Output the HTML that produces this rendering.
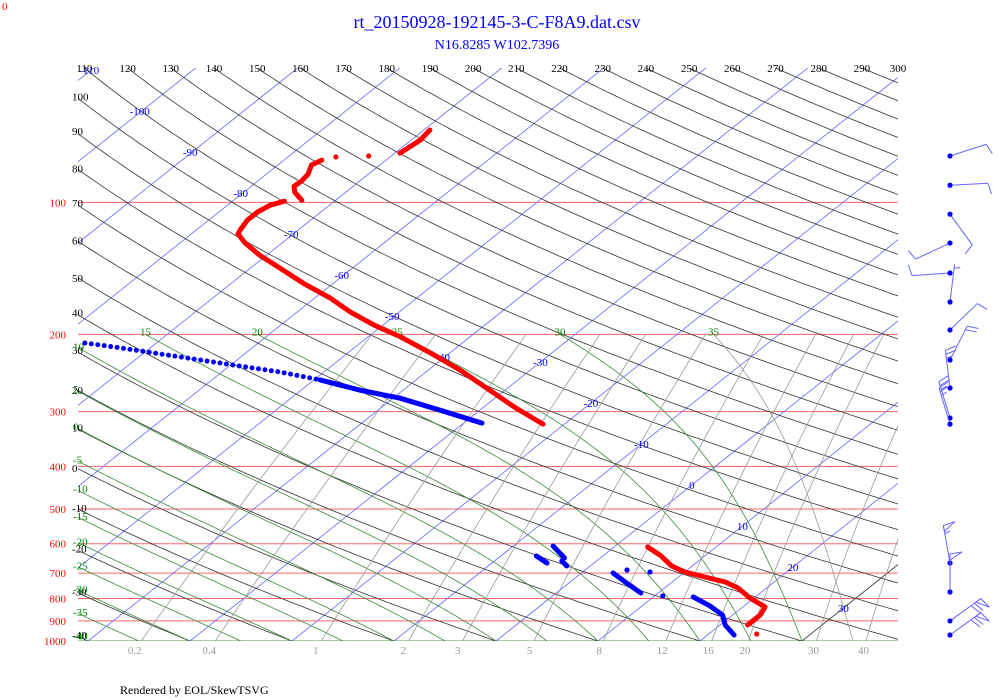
<!DOCTYPE html>
<html><head><meta charset="utf-8"><style>
html,body{margin:0;padding:0;background:#fff;}
svg{display:block;font-family:"Liberation Serif",serif;}
</style></head><body>
<svg id="chart" width="1000" height="700" viewBox="0 0 1000 700" xmlns="http://www.w3.org/2000/svg">
<defs><clipPath id="plotclip"><rect x="78" y="68" width="820" height="573"/></clipPath></defs>
<text x="2" y="10" font-size="11" fill="red">0</text>
<text x="497" y="28" font-size="18" fill="blue" text-anchor="middle">rt_20150928-192145-3-C-F8A9.dat.csv</text>
<text x="497" y="49" font-size="14" fill="blue" text-anchor="middle">N16.8285 W102.7396</text>
<text x="120" y="694" font-size="12" fill="#000">Rendered by EOL/SkewTSVG</text>
<g id="grid" clip-path="url(#plotclip)"></g>
<g id="labels"></g>
<g id="traces" clip-path="url(#plotclip)"></g>
<g id="winds"></g>
</svg>
<script>
// ---- data ----
const pressureLevels=[100,200,300,400,500,600,700,800,900,1000];
const isotherms=[-150,-140,-130,-120,-110,-100,-90,-80,-70,-60,-50,-40,-30,-20,-10,0,10,20,30,40];
const isoLabelsUpper=[-110,-100,-90,-80,-70,-60,-50,-40];
const isoLabelsLower=[-30,-20,-10,0,10,20,30];
const dryAdiabats=[];for(let t=-40;t<=300;t+=10)dryAdiabats.push(t);
const moistAdiabats=[-40,-35,-30,-25,-20,-15,-10,-5,0,5,10,15,20,25,30,35];
const mixingRatios=[0.2,0.4,1,2,3,5,8,12,16,20,30,40];
const mixingLabels=["0.2","0.4","1","2","3","5","8","12","16","20","30","40"];
const tempP=[68.4,72.1,77.2,null,78.4,null,78.8,null,80.1,82.2,86.3,89.4,91.9,94.8,98.9,null,99.4,101.5,105.2,109.7,115.6,118.1,123.8,131.9,141.2,153.6,165.2,177.8,190.6,202.6,220.4,241.1,268.1,292.9,320.3,null,610.6,636.9,674.6,696.1,714.8,733.6,757.1,797.9,836.6,872.4,919.5,null,963.9];
const tempT=[-69.4,-69.1,-69.5,null,-72.2,null,-75.3,null,-76.3,-76.7,-75.9,-75.7,-75.8,-75.0,-73.3,null,-74.9,-75.8,-76.2,-76.2,-75.7,-75.4,-73.6,-70.7,-67.1,-62.7,-58.5,-54.8,-50.8,-46.8,-41.9,-36.9,-31.5,-27.0,-22.1,null,3.3,5.5,8.0,10.0,12.6,15.2,17.2,19.6,22.2,22.7,22.7,null,24.7];
const dewUpperP=[209.2,214.7,221.5,228.8,236.1,243.6,254.0,268.1,279.6,297.7,318.6];
const dewUpperT=[-77.0,-72.9,-68.3,-63.6,-59.0,-54.3,-49.4,-44.2,-39.3,-33.9,-28.2];
const dewP=[607.4,646.9,null,640.2,664.1,null,657.2,674.6,null,699.8,733.6,777.3,null,688.9,null,696.1,null,789.4,null,793.4,832.4,872.4,919.5,969.0];
const dewT=[-6.1,-3.5,null,-6.5,-4.6,null,-3.4,-2.3,null,3.1,5.4,8.3,null,4.1,null,6.6,null,10.8,null,13.9,16.7,19.0,20.5,22.6];
const windP=[78.4,91.4,106.4,123.8,144.9,168.7,195.4,228.8,265.0,310.2,320.3,664.1,773.3,900,969];
const windDir=[72,87,144,245,266,7,46,27,353,343,343,350,0,54,54];
const windSpd=[10,10,10,10,10,5,10,20,25,25,25,55,50,70,70];

// ---- axes ----
const NS="http://www.w3.org/2000/svg";
function yOf(p){return 641-190.5*Math.log(1000/p);}
function xOf(T,p){return 496+10.2*T+1.256*(641-yOf(p));}
function mk(tag,attrs,parent){const e=document.createElementNS(NS,tag);for(const k in attrs)e.setAttribute(k,attrs[k]);parent.appendChild(e);return e;}
const grid=document.getElementById('grid'),labels=document.getElementById('labels'),traces=document.getElementById('traces'),winds=document.getElementById('winds');
function poly(pts,stroke,w,name,parent){const e=mk('polyline',{points:pts.map(q=>q[0].toFixed(1)+','+q[1].toFixed(1)).join(' '),fill:'none',stroke:stroke,'stroke-width':w},parent);

return e;}
function txt(x,y,s,fill,anchor,name,size){const e=mk('text',{x:x.toFixed(1),y:y.toFixed(1),fill:fill,'font-size':size||11,'text-anchor':anchor||'start'},labels);e.textContent=s;

return e;}

// pressure lines
pressureLevels.forEach(p=>{const y=yOf(p);
 poly([[78,y],[898,y]],p===1000?'#4a4':'#ff6666',1,'isobar-'+p,grid);
 txt(66,y+4,String(p),'red','end','pressure-label-'+p);});
// isotherms
isotherms.forEach(T=>{poly([[xOf(T,1000),yOf(1000)],[xOf(T,49),yOf(49)]],T===30?'#333':'#6666ff',0.8,'isotherm-'+T,grid);});
isoLabelsUpper.forEach(T=>{const y=70+(T+110)*4.1;const p=1000*Math.exp(-(641-y)/190.5);txt(xOf(T,p)-2,y+4,String(T),'blue','middle','isotherm-label-'+T);});
isoLabelsLower.forEach(T=>{const y=362+(T+30)*4.1;const p=1000*Math.exp(-(641-y)/190.5);txt(xOf(T,p),y+4,String(T),'blue','middle','isotherm-label-'+T);});
// dry adiabats
dryAdiabats.forEach(th=>{const pts=[];
 for(let p=1060;p>=44;p*=0.985){const T=(th+273.15)*Math.pow(p/1000,0.2857)-273.15;pts.push([xOf(T,p),yOf(p)]);}
 poly(pts,'#333',0.8,'dry-adiabat-'+th,grid);
 const Ttop=(th+273.15)*Math.pow(49.4/1000,0.2857)-273.15;const xt=xOf(Ttop,49.4);
 if(xt>=76&&xt<=915){txt(Math.min(xt,898),72,String(th),'#000','middle','dry-adiabat-label-'+th);}
 else if(xt<76){for(let i=1;i<pts.length;i++){if(pts[i][0]<78&&pts[i-1][0]>=78||pts[i][0]>=78&&pts[i-1][0]<78){const y=pts[i][1];if(y<641)txt(72,y+4,String(th),'#000','start','dry-adiabat-label-'+th);break;}}}
});
// moist adiabats
function moistPts(thw){const pts=[];let T=thw+273.15;const Rd=287,Lv=2.5e6,cp=1004;
 for(let p=1000;p>=200;p-=2){pts.push([xOf(T-273.15,p),yOf(p)]);
  const es=6.112*Math.exp(17.67*(T-273.15)/(T-29.65));const rs=0.622*es/(p-es);
  const d=(Rd*T+Lv*rs)/(p*(cp+Lv*Lv*rs*0.622/(Rd*T*T)));T-=2*d;}return pts;}
moistAdiabats.forEach(thw=>{const pts=moistPts(thw);poly(pts,thw===35?'#999':'#3a8a3a',0.8,'moist-adiabat-'+thw,grid);
 const top=pts[pts.length-1];
 if(top[0]>=90){txt(top[0],top[1]+1,String(thw),'green','middle','moist-adiabat-label-'+thw);}
 else{for(let i=1;i<pts.length;i++){if(pts[i][0]<78){txt(73,pts[i][1]+3,String(thw),'green','start','moist-adiabat-label-'+thw);break;}}}
});
// mixing ratio lines
function tdOf(e){const l=Math.log(e/6.112);return 243.5*l/(17.67-l);}
mixingRatios.forEach((w,i)=>{const pts=[];for(let p=1000;p>=200;p-=10){const e=w*p/(622+w);pts.push([xOf(tdOf(e),p),yOf(p)]);}
 poly(pts,'#999',0.8,'mixing-ratio-'+w,grid);
 const pl=1048,e=w*pl/(622+w);txt(xOf(tdOf(e),pl),654,mixingLabels[i],'#999','middle','mixing-ratio-label-'+w);});

// ---- traces ----
function drawSeries(P,T,color,name){let seg=[];const flush=()=>{if(seg.length===1){const c=mk('circle',{cx:seg[0][0],cy:seg[0][1],r:2.6,fill:color},traces);
 
 }
 else if(seg.length>1){const e=poly(seg,color,5,name+'-segment',traces);e.setAttribute('stroke-linecap','round');e.setAttribute('stroke-linejoin','round');}seg=[];};
 for(let i=0;i<P.length;i++){if(P[i]===null){flush();continue;}seg.push([xOf(T[i],P[i]),yOf(P[i])]);}flush();}
drawSeries(tempP,tempT,'red','temperature');
const du=poly(dewUpperP.map((p,i)=>[xOf(dewUpperT[i],p),yOf(p)]),'blue',5,'dewpoint-upper',traces);
du.setAttribute('stroke-dasharray','0 6.5');du.setAttribute('stroke-linecap','round');
const du2=poly(dewUpperP.slice(6).map((p,i)=>[xOf(dewUpperT[i+6],p),yOf(p)]),'blue',5,'dewpoint-upper-dense',traces);
du2.setAttribute('stroke-linecap','round');
drawSeries(dewP,dewT,'blue','dewpoint');

// ---- wind barbs ----
windP.forEach((p,i)=>{const x0=950,y0=yOf(p);const a=windDir[i]*Math.PI/180;const ux=Math.sin(a),uy=-Math.cos(a);const px=-uy,py=ux;const L=38;
 const g=mk('g',{stroke:'#6666ff','stroke-width':1,fill:'none'},winds);
 
 
 mk('line',{x1:x0,y1:y0,x2:x0+ux*L,y2:y0+uy*L},g);
 let s=windSpd[i],pos=L;
 while(s>=50){const bx=x0+ux*pos,by=y0+uy*pos;mk('polygon',{points:`${bx},${by} ${bx+px*12+ux*2},${by+py*12+uy*2} ${bx-ux*6},${by-uy*6}`},g);pos-=8;s-=50;}
 while(s>=10){const bx=x0+ux*pos,by=y0+uy*pos;mk('line',{x1:bx,y1:by,x2:bx+px*11+ux*3,y2:by+py*11+uy*3},g);pos-=4;s-=10;}
 if(s>=5){if(pos===L)pos-=4;const bx=x0+ux*pos,by=y0+uy*pos;mk('line',{x1:bx,y1:by,x2:bx+px*6+ux*1.5,y2:by+py*6+uy*1.5},g);}
 const c=mk('circle',{cx:x0,cy:y0,r:2.6,fill:'blue',stroke:'none'},winds);
 
 
});
</script>
</body></html>
